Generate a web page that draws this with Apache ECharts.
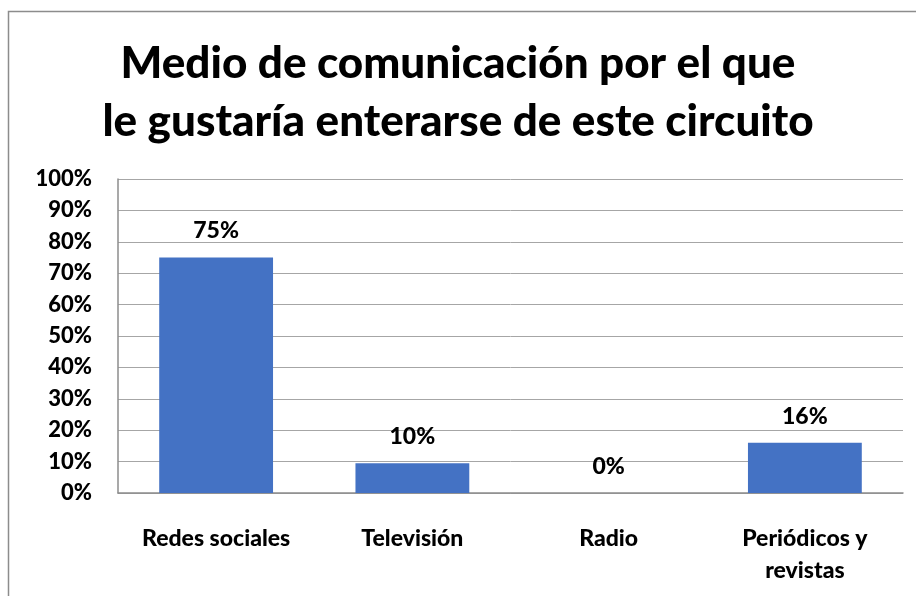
<!DOCTYPE html>
<html>
<head>
<meta charset="utf-8">
<script src="https://cdn.jsdelivr.net/npm/echarts@6/dist/echarts.min.js"></script>
<style>
  html, body { margin: 0; padding: 0; background: #fff; }
  #chart { width: 916px; height: 596px; }
</style>
</head>
<body>
<div id="chart"></div>
<script>
// datos del gráfico
const categories = ['Redes sociales', 'Televisión', 'Radio', 'Periódicos y\nrevistas'];
const values = [75, 9.5, 0, 16];
const yTicks = [0, 10, 20, 30, 40, 50, 60, 70, 80, 90, 100];

const font = 'Lato, "Open Sans", sans-serif';
const weight = 900;

let chart = echarts.init(document.getElementById('chart'));
chart.setOption({
  animation: false,
  title: {
    text: 'Medio de comunicación por el que\nle gustaría enterarse de este circuito',
    left: 'center',
    top: 30,
    textStyle: {
      fontFamily: font,
      fontWeight: weight,
      fontSize: 44,
      lineHeight: 58,
      color: '#000'
    }
  },
  graphic: [{
    type: 'rect',
    shape: {x: 8.5, y: 11.5, width: 930, height: 620},
    style: {fill: 'none', stroke: '#8c8c8c', lineWidth: 1.5},
    silent: true
  }],
  grid: {
    left: 118,
    right: 13,
    top: 179,
    bottom: 103
  },
  xAxis: {
    type: 'category',
    data: categories,
    axisLine: {lineStyle: {color: '#8c8c8c', width: 1.5}},
    axisTick: {show: false},
    axisLabel: {
      interval: 0,
      margin: 30,
      fontFamily: font,
      fontWeight: weight,
      fontSize: 23,
      lineHeight: 32,
      color: '#000'
    }
  },
  yAxis: {
    type: 'value',
    min: 0,
    max: 100,
    interval: 10,
    axisLine: {show: true, lineStyle: {color: '#8c8c8c', width: 1.5}},
    axisTick: {show: false},
    splitLine: {lineStyle: {color: '#a6a6a6', width: 1}},
    axisLabel: {
      margin: 26,
      fontFamily: font,
      fontWeight: weight,
      fontSize: 22,
      color: '#000',
      formatter: (v) => yTicks.includes(v) ? v + '%' : ''
    }
  },
  series: [{
    type: 'bar',
    data: values,
    barWidth: '58%',
    itemStyle: {color: '#4472c4'},
    label: {
      show: true,
      position: 'top',
      distance: 15,
      fontFamily: font,
      fontWeight: weight,
      fontSize: 23,
      color: '#000',
      formatter: (p) => Math.round(p.value) + '%'
    }
  }]
});
</script>
</body>
</html>
